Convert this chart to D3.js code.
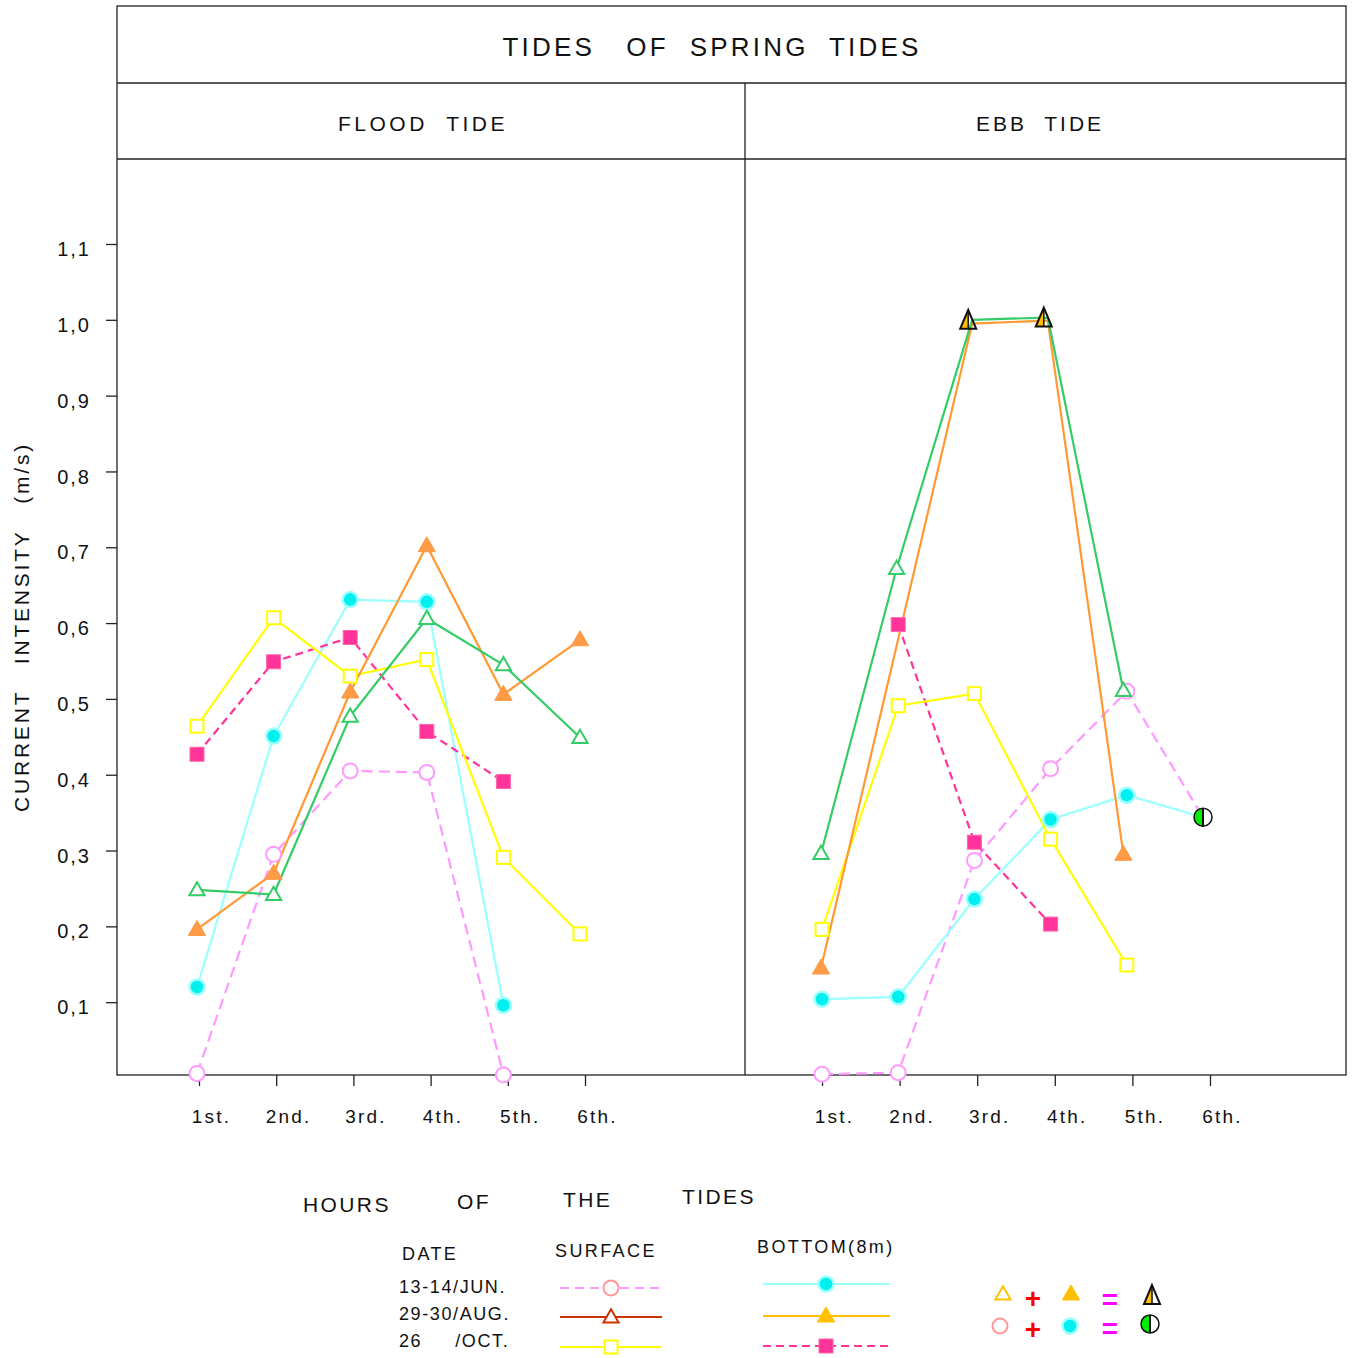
<!DOCTYPE html>
<html>
<head>
<meta charset="utf-8">
<script src="https://cdn.jsdelivr.net/npm/d3@7"></script>
<style>
  body { margin: 0; background: #fff; }
  svg text { font-family: "Liberation Sans", Arial, sans-serif; fill: #111; white-space: pre; }
</style>
</head>
<body>
<svg id="chart" width="1356" height="1358"></svg>
<script>
// ---- data ----
const hours = ["1st.", "2nd.", "3rd.", "4th.", "5th.", "6th."];
const yTicks = [0.1, 0.2, 0.3, 0.4, 0.5, 0.6, 0.7, 0.8, 0.9, 1.0, 1.1];

// flood tide
const floodJunSurface = [0.006, 0.295, 0.405, 0.403, 0.004, null];
const floodJunBottom  = [0.12, 0.451, 0.631, 0.628, 0.096, null];
const floodAugSurface = [0.248, 0.242, 0.477, 0.606, 0.545, 0.449];
const floodAugBottom  = [0.196, 0.27, 0.509, 0.702, 0.506, 0.578];
const floodOctSurface = [0.464, 0.607, 0.53, 0.552, 0.291, 0.19];
const floodOctBottom  = [0.427, 0.549, 0.581, 0.457, 0.391, null];

// ebb tide
const ebbJunSurface = [0.005, 0.007, 0.287, 0.408, 0.51, 0.344];
const ebbJunBottom  = [0.104, 0.107, 0.236, 0.341, 0.373, 0.344];
const ebbAugSurface = [0.296, 0.672, 1.0, 1.003, 0.511, null];
const ebbAugBottom  = [0.145, null, 0.995, 0.999, 0.295, null];
const ebbOctSurface = [0.196, 0.491, 0.507, 0.315, 0.149, null];
const ebbOctBottom  = [null, 0.598, 0.311, 0.203, null, null];

// points where surface and bottom coincide (drawn with a combined symbol)
const ebbAugBoth = ["3rd.", "4th."];
const ebbJunBoth = ["6th."];

const svg = d3.select("#chart");

// frame
const frameL = 117, frameR = 1346, frameT = 6, frameMid = 745, plotTop = 159, plotBottom = 1075;

const y = d3.scaleLinear().domain([0, 1.1]).range([1078, 244]);

const floodTick = d3.scalePoint().domain(hours).range([199, 585]);
const floodMark = d3.scalePoint().domain(hours).range([197, 580]);
const ebbTick = d3.scalePoint().domain(hours).range([822, 1210]);
const ebbMark = d3.scalePoint().domain(hours).range([822, 1203]);
// the green/orange ebb series sit a little left of the others
const ebbAugMark = d3.scalePoint().domain(hours).range([821, 1199]);

const frame = svg.append("g").attr("fill", "none").attr("stroke", "#222").attr("stroke-width", 1.3);
frame.append("rect").attr("x", frameL).attr("y", frameT).attr("width", frameR - frameL).attr("height", plotBottom - frameT);
frame.append("line").attr("x1", frameL).attr("x2", frameR).attr("y1", 83).attr("y2", 83);
frame.append("line").attr("x1", frameL).attr("x2", frameR).attr("y1", plotTop).attr("y2", plotTop);
frame.append("line").attr("x1", frameMid).attr("x2", frameMid).attr("y1", 83).attr("y2", plotBottom);

svg.append("text").attr("x", 712).attr("y", 56).attr("text-anchor", "middle")
  .attr("font-size", 26).attr("letter-spacing", 3.2).text("TIDES   OF  SPRING  TIDES");
svg.append("text").attr("x", 423).attr("y", 131).attr("text-anchor", "middle")
  .attr("font-size", 21).attr("letter-spacing", 3.5).text("FLOOD  TIDE");
svg.append("text").attr("x", 1040).attr("y", 131).attr("text-anchor", "middle")
  .attr("font-size", 21).attr("letter-spacing", 3).text("EBB  TIDE");

// y axis
const yAxis = svg.append("g").attr("transform", `translate(${frameL},0)`)
  .call(d3.axisLeft(y).tickValues(yTicks).tickSize(11).tickPadding(15)
    .tickFormat(d => d3.format(".1f")(d).replace(".", ",")));
yAxis.select(".domain").remove();
yAxis.selectAll("line").attr("stroke", "#222").attr("stroke-width", 1.3);
yAxis.selectAll("text").attr("font-size", 20).attr("letter-spacing", 2).attr("dy", "0.58em")
  .attr("font-family", "Liberation Sans, Arial, sans-serif").attr("fill", "#111");

svg.append("text").attr("transform", "translate(29,627) rotate(-90)").attr("text-anchor", "middle")
  .attr("font-size", 21).attr("letter-spacing", 2.8).text("CURRENT   INTENSITY   (m/s)");

// x axes
function xAxis(scale) {
  const g = svg.append("g").attr("transform", `translate(0,${plotBottom})`)
    .call(d3.axisBottom(scale).tickSize(11).tickPadding(24));
  g.select(".domain").remove();
  g.selectAll("line").attr("stroke", "#222").attr("stroke-width", 1.3);
  g.selectAll("text").attr("font-size", 19).attr("letter-spacing", 2.2).attr("dx", 12)
    .attr("font-family", "Liberation Sans, Arial, sans-serif").attr("fill", "#111");
}
xAxis(floodTick);
xAxis(ebbTick);

// series styling
const styles = {
  junSurface: { line: "#ff99ff", dash: "11,6", mark: "circle", stroke: "#ff99ff", fill: "white" },
  junBottom:  { line: "#99ffff", dash: null, mark: "circle", stroke: "#99ffff", fill: "#00f0f0", filled: true },
  octBottom:  { line: "#ff3399", dash: "8,5", mark: "square", stroke: "#ff66aa", fill: "#ff3399", filled: true },
  octSurface: { line: "#ffff00", dash: null, mark: "square", stroke: "#ffff00", fill: "white" },
  augBottom:  { line: "#ff9933", dash: null, mark: "triangle", stroke: "#ff9a45", fill: "#ff9a45", filled: true },
  augSurface: { line: "#33cc66", dash: null, mark: "triangle", stroke: "#33cc66", fill: "white" }
};

function drawMarker(g, type, cx, cy, st) {
  if (type === "circle") {
    g.append("circle").attr("cx", cx).attr("cy", cy).attr("r", 7.5)
      .attr("fill", st.fill).attr("stroke", st.stroke).attr("stroke-width", st.filled ? 2.5 : 2);
  } else if (type === "square") {
    const s = st.filled ? 14 : 13;
    g.append("rect").attr("x", cx - s / 2).attr("y", cy - s / 2).attr("width", s).attr("height", s)
      .attr("fill", st.fill).attr("stroke", st.stroke).attr("stroke-width", st.filled ? 1 : 2);
  } else {
    const sym = d3.symbol().type(d3.symbolTriangle).size(st.filled ? 130 : 100);
    g.append("path").attr("transform", `translate(${cx},${cy + 1})`).attr("d", sym())
      .attr("fill", st.fill).attr("stroke", st.stroke).attr("stroke-width", st.filled ? 1 : 2);
  }
}

function drawSeries(values, key, xs, skip) {
  const st = styles[key];
  const pts = hours.map((h, i) => ({ h, v: values[i] })).filter(d => d.v !== null);
  const line = d3.line().x(d => xs(d.h)).y(d => y(d.v));
  svg.append("path").datum(pts).attr("d", line)
    .attr("fill", "none").attr("stroke", st.line).attr("stroke-width", 2.2)
    .attr("stroke-dasharray", st.dash);
  return () => {
    const g = svg.append("g");
    pts.filter(d => !(skip || []).includes(d.h))
      .forEach(d => drawMarker(g, st.mark, xs(d.h), y(d.v), st));
  };
}

const markerDraws = [];
// flood
markerDraws.push(drawSeries(floodJunSurface, "junSurface", floodMark));
markerDraws.push(drawSeries(floodJunBottom, "junBottom", floodMark));
markerDraws.push(drawSeries(floodOctBottom, "octBottom", floodMark));
markerDraws.push(drawSeries(floodOctSurface, "octSurface", floodMark));
markerDraws.push(drawSeries(floodAugBottom, "augBottom", floodMark));
markerDraws.push(drawSeries(floodAugSurface, "augSurface", floodMark));
// ebb
markerDraws.push(drawSeries(ebbJunSurface, "junSurface", ebbMark, ebbJunBoth));
markerDraws.push(drawSeries(ebbJunBottom, "junBottom", ebbMark, ebbJunBoth));
markerDraws.push(drawSeries(ebbOctBottom, "octBottom", ebbMark));
markerDraws.push(drawSeries(ebbOctSurface, "octSurface", ebbMark));
markerDraws.push(drawSeries(ebbAugBottom, "augBottom", ebbAugMark, ebbAugBoth));
markerDraws.push(drawSeries(ebbAugSurface, "augSurface", ebbAugMark, ebbAugBoth));
markerDraws.forEach(f => f());

// combined symbols
function halfTriangle(g, cx, cy) {
  const w = 8, h = 18;
  g.append("path").attr("d", `M${cx},${cy - h / 2 - 1}L${cx - w},${cy + h / 2}L${cx},${cy + h / 2}Z`)
    .attr("fill", "#ffc000");
  g.append("path").attr("d", `M${cx},${cy - h / 2 - 1}L${cx - w},${cy + h / 2}L${cx + w},${cy + h / 2}Z`)
    .attr("fill", "none").attr("stroke", "#111").attr("stroke-width", 2).attr("stroke-linejoin", "miter");
  g.append("line").attr("x1", cx).attr("x2", cx).attr("y1", cy - h / 2).attr("y2", cy + h / 2)
    .attr("stroke", "#111").attr("stroke-width", 1.5);
}
function halfCircle(g, cx, cy) {
  const r = 9;
  g.append("circle").attr("cx", cx).attr("cy", cy).attr("r", r).attr("fill", "white");
  g.append("path").attr("d", `M${cx},${cy - r}A${r},${r} 0 0 0 ${cx},${cy + r}Z`).attr("fill", "#00ee00");
  g.append("circle").attr("cx", cx).attr("cy", cy).attr("r", r).attr("fill", "none")
    .attr("stroke", "#111").attr("stroke-width", 1.5);
  g.append("line").attr("x1", cx).attr("x2", cx).attr("y1", cy - r).attr("y2", cy + r)
    .attr("stroke", "#111").attr("stroke-width", 2);
}
const both = svg.append("g");
ebbAugBoth.forEach(h => halfTriangle(both, ebbAugMark(h) - 4, y(ebbAugSurface[hours.indexOf(h)])));
ebbJunBoth.forEach(h => halfCircle(both, ebbMark(h), y(ebbJunSurface[hours.indexOf(h)])));

// x title
const xTitle = [["HOURS", 303, 1212], ["OF", 457, 1209], ["THE", 563, 1207], ["TIDES", 682, 1204]];
svg.selectAll(".xt").data(xTitle).join("text").attr("class", "xt")
  .attr("x", d => d[1]).attr("y", d => d[2]).attr("font-size", 21).attr("letter-spacing", 2.4).text(d => d[0]);

// legend
const lg = svg.append("g");
const legHead = [["DATE", 402, 1260], ["SURFACE", 555, 1257], ["BOTTOM(8m)", 757, 1253]];
lg.selectAll(".lh").data(legHead).join("text").attr("class", "lh")
  .attr("x", d => d[1]).attr("y", d => d[2]).attr("font-size", 18).attr("letter-spacing", 2.4).text(d => d[0]);
const dates = ["13-14/JUN.", "29-30/AUG.", "26     /OCT."];
const dateY = [1293, 1320, 1347];
lg.selectAll(".ld").data(dates).join("text").attr("class", "ld")
  .attr("x", 399).attr("y", (d, i) => dateY[i]).attr("font-size", 18).attr("letter-spacing", 1.6).text(d => d);

const surfRowY = [1288, 1317, 1347];
const botRowY = [1284, 1316, 1346];
const legSurface = [
  { line: "#ff99ff", dash: "9,6", mark: "circle", stroke: "#ff9999", fill: "white" },
  { line: "#cc3300", dash: null, mark: "triangle", stroke: "#cc3300", fill: "white" },
  { line: "#ffff00", dash: null, mark: "square", stroke: "#ffff00", fill: "white" }
];
const legBottom = [
  { line: "#99ffff", dash: null, mark: "circle", stroke: "#99ffff", fill: "#00f0f0", filled: true },
  { line: "#ffc000", dash: null, mark: "triangle", stroke: "#ffc000", fill: "#ffc000", filled: true },
  { line: "#ff3399", dash: "8,5", mark: "square", stroke: "#ff66aa", fill: "#ff3399", filled: true }
];
legSurface.forEach((st, i) => {
  lg.append("line").attr("x1", 560).attr("x2", 662).attr("y1", surfRowY[i]).attr("y2", surfRowY[i])
    .attr("stroke", st.line).attr("stroke-width", 2).attr("stroke-dasharray", st.dash);
  drawMarker(lg, st.mark, 611, surfRowY[i], st);
});
legBottom.forEach((st, i) => {
  lg.append("line").attr("x1", 763).attr("x2", 890).attr("y1", botRowY[i]).attr("y2", botRowY[i])
    .attr("stroke", st.line).attr("stroke-width", 2).attr("stroke-dasharray", st.dash);
  drawMarker(lg, st.mark, 826, botRowY[i], st);
});

// combination key
drawMarker(lg, "triangle", 1003, 1294, { stroke: "#ffc000", fill: "white" });
drawMarker(lg, "triangle", 1071, 1294, { stroke: "#ffc000", fill: "#ffc000", filled: true });
drawMarker(lg, "circle", 1000, 1326, { stroke: "#ff9999", fill: "white" });
drawMarker(lg, "circle", 1070, 1326, { stroke: "#99ffff", fill: "#00f0f0", filled: true });
halfTriangle(lg, 1152, 1295);
halfCircle(lg, 1150, 1324);
[[1033, 1300], [1033, 1331]].forEach(p =>
  lg.append("text").attr("x", p[0]).attr("y", p[1] + 8).attr("text-anchor", "middle")
    .attr("font-size", 28).attr("font-weight", "bold").style("fill", "#ff0000").text("+"));
[[1110, 1301], [1110, 1330]].forEach(p =>
  lg.append("text").attr("x", p[0]).attr("y", p[1] + 8).attr("text-anchor", "middle")
    .attr("font-size", 28).attr("font-weight", "bold").style("fill", "#ff00ff").text("="));
</script>
</body>
</html>
